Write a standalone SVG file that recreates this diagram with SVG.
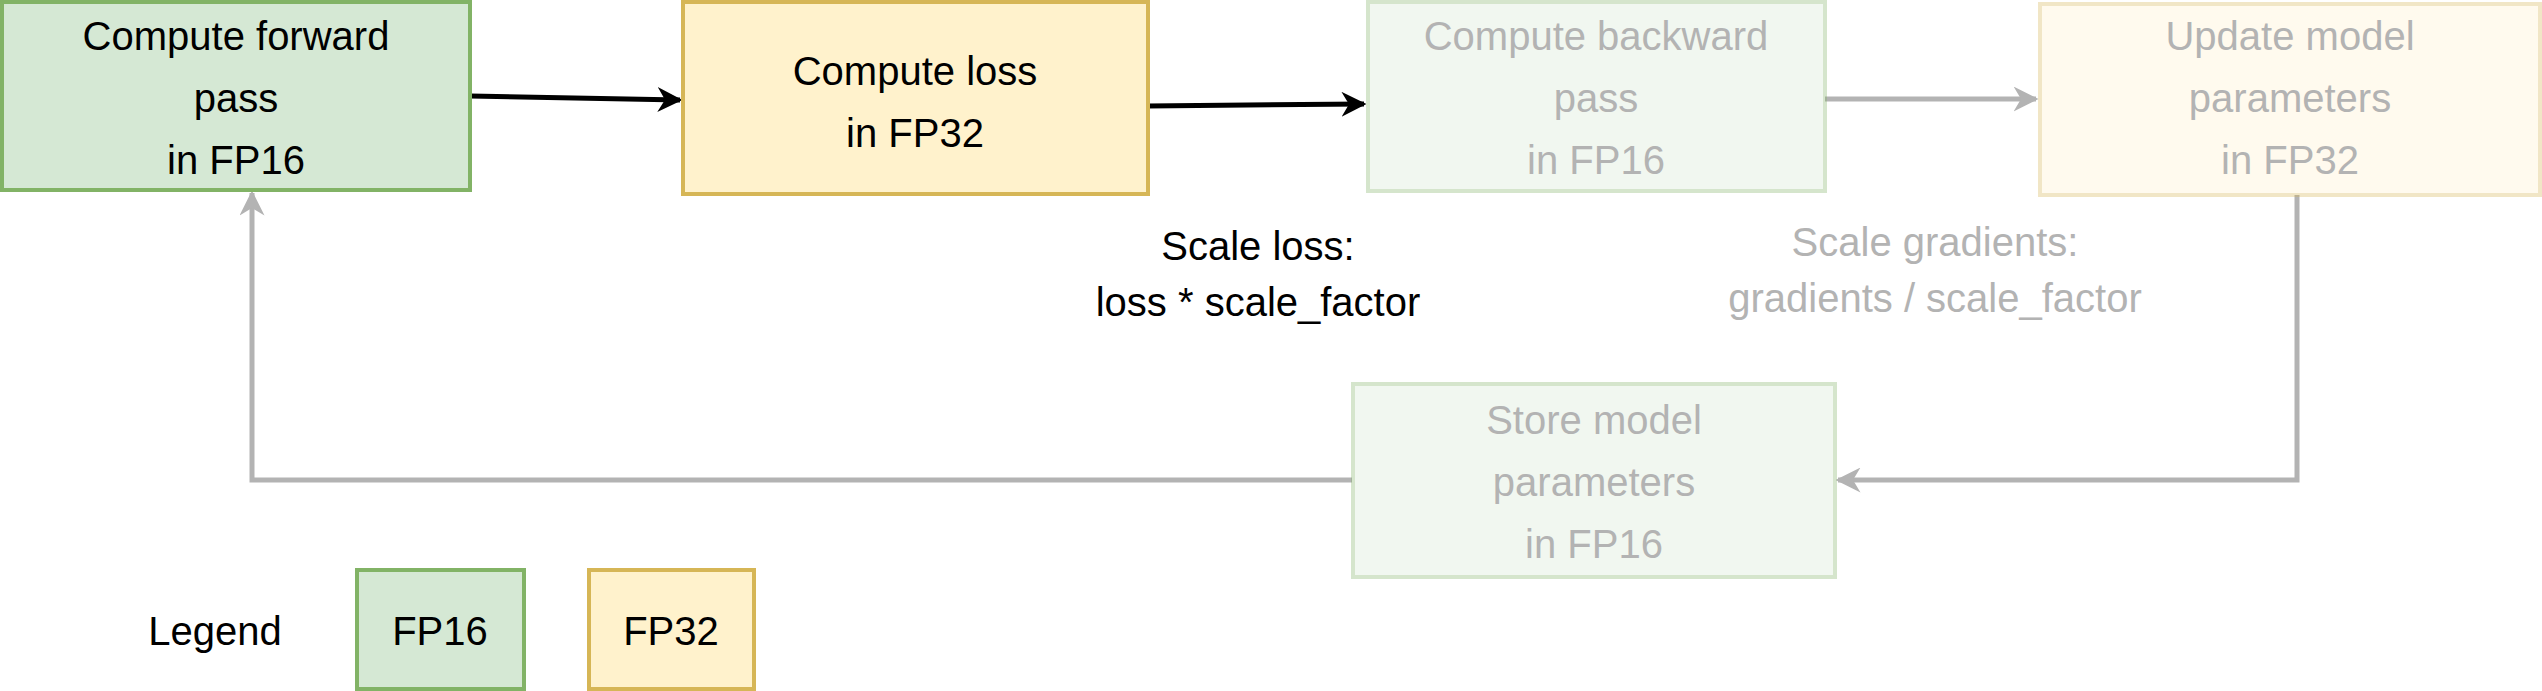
<svg xmlns="http://www.w3.org/2000/svg" width="2542" height="691" viewBox="0 0 2542 691">
<style>
text{font-family:"Liberation Sans",Arial,sans-serif;font-size:40px;text-anchor:middle;fill:#000}
.g{fill:#d5e8d4;stroke:#82b366;stroke-width:4}
.y{fill:#fff2cc;stroke:#d6b656;stroke-width:4}
.f{opacity:0.33}
.ft{fill:#b3b3b3}
.c{fill:none;stroke-width:5}
</style>
<defs>
<marker id="ab" viewBox="0 0 10 10" refX="9" refY="5" markerWidth="5" markerHeight="5" orient="auto" markerUnits="strokeWidth"><path d="M0,0 L10,5 L0,10 L3,5 z" fill="#000"/></marker>
<marker id="ag" viewBox="0 0 10 10" refX="9" refY="5" markerWidth="5" markerHeight="5" orient="auto" markerUnits="strokeWidth"><path d="M0,0 L10,5 L0,10 L3,5 z" fill="#b3b3b3"/></marker>
</defs>
<g id="connectors">
<path class="c" stroke="#000" d="M470,96 L680,100" marker-end="url(#ab)"/>
<path class="c" stroke="#000" d="M1148,106 L1364,104" marker-end="url(#ab)"/>
<path class="c" stroke="#b3b3b3" d="M1825,99 L2036,99" marker-end="url(#ag)"/>
<path class="c" stroke="#b3b3b3" d="M2297,195 L2297,480 L1838,480" marker-end="url(#ag)"/>
<path class="c" stroke="#b3b3b3" d="M1352,480 L252,480 L252,193" marker-end="url(#ag)"/>
</g>
<g id="forward"><rect class="g" x="2" y="2" width="468" height="188"/><text x="236" y="50">Compute forward</text><text x="236" y="112">pass</text><text x="236" y="174">in FP16</text></g>
<g id="loss"><rect class="y" x="683" y="2" width="465" height="192"/><text x="915" y="85">Compute loss</text><text x="915" y="147">in FP32</text></g>
<g id="backward"><rect class="g f" x="1368" y="2" width="457" height="189"/><text class="ft" x="1596" y="50">Compute backward</text><text class="ft" x="1596" y="112">pass</text><text class="ft" x="1596" y="174">in FP16</text></g>
<g id="update"><rect class="y f" x="2040" y="4" width="500" height="191"/><text class="ft" x="2290" y="50">Update model</text><text class="ft" x="2290" y="112">parameters</text><text class="ft" x="2290" y="174">in FP32</text></g>
<g id="store"><rect class="g f" x="1353" y="384" width="482" height="193"/><text class="ft" x="1594" y="434">Store model</text><text class="ft" x="1594" y="496">parameters</text><text class="ft" x="1594" y="558">in FP16</text></g>
<g id="scale-loss"><text x="1258" y="260">Scale loss:</text><text x="1258" y="316">loss * scale_factor</text></g>
<g id="scale-grad"><text class="ft" x="1935" y="256">Scale gradients:</text><text class="ft" x="1935" y="312">gradients / scale_factor</text></g>
<g id="legend"><text x="215" y="645">Legend</text>
<rect class="g" x="357" y="570" width="167" height="119"/><text x="440" y="645">FP16</text>
<rect class="y" x="589" y="570" width="165" height="119"/><text x="671" y="645">FP32</text></g>
</svg>
